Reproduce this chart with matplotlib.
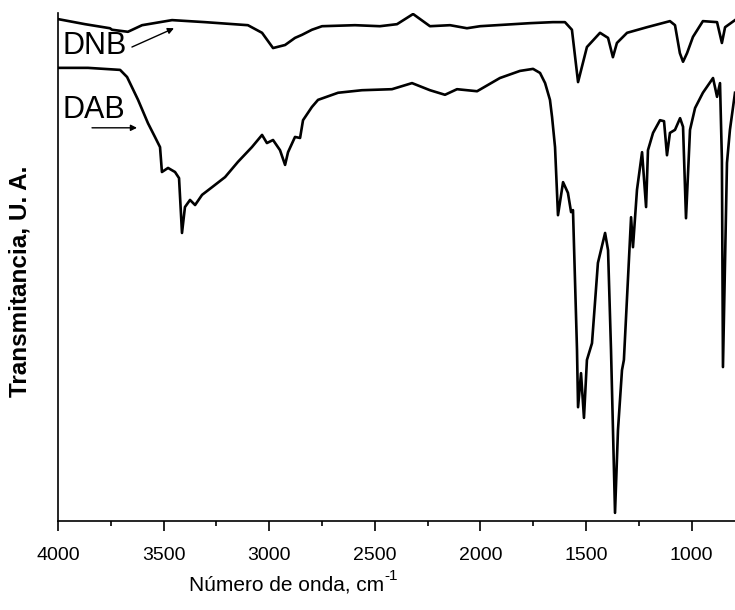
import matplotlib
matplotlib.use("Agg")
import matplotlib.pyplot as plt
import numpy as np

plt.rcParams['font.family'] = ['Liberation Sans', 'DejaVu Sans']

# FTIR spectra: wavenumber (cm-1) and transmittance (arbitrary units)
dnb_wn = np.array([4000, 3872, 3754, 3744, 3669, 3602, 3460, 3304, 3101, 3034,
                   2982, 2925, 2878, 2845, 2798, 2750, 2594, 2476, 2395, 2319,
                   2239, 2144, 2064, 2002, 1765, 1657, 1600, 1567, 1538, 1496,
                   1434, 1396, 1373, 1354, 1306, 1212, 1103, 1079, 1056, 1041,
                   1022, 994, 947, 880, 857, 842, 795])
dnb_t = np.array([98.8, 97.8, 97.0, 96.7, 96.3, 97.6, 98.6, 98.2, 97.6, 96.1,
                  93.1, 93.7, 95.1, 95.7, 96.7, 97.4, 97.6, 97.4, 97.8, 99.8,
                  97.4, 97.6, 97.0, 97.4, 98.0, 98.2, 98.2, 96.7, 86.4, 93.3,
                  96.1, 95.1, 91.3, 94.1, 96.1, 97.2, 98.4, 97.6, 92.1, 90.4,
                  92.1, 95.3, 98.4, 98.2, 94.1, 97.2, 98.6])

dab_wn = np.array([4000, 3858, 3706, 3673, 3621, 3574, 3541, 3517, 3508, 3479,
                   3446, 3427, 3413, 3399, 3375, 3351, 3318, 3271, 3209, 3148,
                   3082, 3034, 3011, 2982, 2949, 2925, 2911, 2878, 2854, 2840,
                   2798, 2769, 2674, 2561, 2419, 2324, 2239, 2168, 2111, 2016,
                   1908, 1813, 1751, 1718, 1694, 1671, 1661, 1647, 1633, 1609,
                   1586, 1571, 1562, 1543, 1538, 1524, 1510, 1496, 1472, 1444,
                   1410, 1396, 1382, 1363, 1349, 1330, 1321, 1287, 1278, 1259,
                   1235, 1216, 1207, 1183, 1150, 1131, 1117, 1103, 1079, 1055,
                   1041, 1027, 1008, 984, 947, 899, 880, 866, 857, 852,
                   833, 819, 795])
dab_t = np.array([89.2, 89.2, 88.8, 87.4, 82.9, 78.3, 75.6, 73.6, 68.7, 69.5,
                  68.7, 67.5, 56.7, 61.8, 63.2, 62.2, 64.2, 65.7, 67.7, 70.7,
                  73.6, 76.0, 74.4, 75.0, 73.0, 70.1, 72.6, 75.6, 75.4, 78.9,
                  81.5, 82.9, 84.3, 84.8, 85.0, 86.2, 84.8, 83.9, 85.0, 84.6,
                  87.2, 88.6, 89.0, 88.2, 86.2, 82.9, 79.5, 73.6, 60.2, 66.7,
                  64.6, 60.8, 61.2, 33.7, 22.4, 29.1, 20.3, 31.7, 35.0, 50.8,
                  56.7, 53.3, 33.7, 1.6, 17.9, 29.7, 31.7, 59.8, 53.9, 65.2,
                  72.6, 61.8, 73.0, 76.4, 78.9, 78.7, 72.0, 76.4, 77.0, 79.3,
                  77.6, 59.6, 77.0, 81.3, 84.3, 87.2, 83.5, 86.2, 71.1, 30.3,
                  70.5, 77.0, 84.3])

major_ticks = [4000, 3500, 3000, 2500, 2000, 1500, 1000]

fig = plt.figure(figsize=(7.35, 6.1), dpi=100)
ax = fig.add_axes([58 / 735, 1 - 521 / 610, 1 - 58 / 735, (521 - 13) / 610])

ax.plot(dnb_wn, dnb_t, color='black', lw=1.9, solid_joinstyle='round')
ax.plot(dab_wn, dab_t, color='black', lw=1.9, solid_joinstyle='round')

ax.set_xlim(4000, 795)
ax.set_ylim(0, 100)

ax.spines['top'].set_visible(False)
ax.spines['right'].set_visible(False)
ax.spines['left'].set_linewidth(1.2)
ax.spines['bottom'].set_linewidth(1.2)

ax.set_xticks(major_ticks)
ax.set_xticks(np.arange(3750, 795, -500), minor=True)
ax.tick_params(axis='x', which='major', direction='out', length=7.5, width=1.2,
               labelsize=14, pad=11.5)
ax.tick_params(axis='x', which='minor', direction='out', length=3.8, width=1.2)
ax.set_yticks([])

# curve labels with arrows
ax.text(3981, 93.5, 'DNB', fontsize=22, ha='left', va='center')
ax.annotate('', xy=(3451, 97.0), xytext=(3650, 93.3),
            arrowprops=dict(arrowstyle='-|>', color='black', lw=1.0,
                            mutation_scale=9, shrinkA=0, shrinkB=0))
ax.text(3981, 80.9, 'DAB', fontsize=22, ha='left', va='center')
ax.annotate('', xy=(3626, 77.4), xytext=(3839, 77.4),
            arrowprops=dict(arrowstyle='-|>', color='black', lw=1.0,
                            mutation_scale=9, shrinkA=0, shrinkB=0))

xlab = ax.set_xlabel('Número de onda, cm', fontsize=15)
ax.xaxis.set_label_coords(0.337, -0.107)
# superscript written with a plain hyphen
ax.annotate('-1', xy=(1, 1), xycoords=xlab, xytext=(0.5, -5.2),
            textcoords='offset points', fontsize=11, ha='left', va='bottom')
ax.set_ylabel('Transmitancia, U. A.', fontsize=17.5, fontweight='bold')
ax.yaxis.set_label_coords(-0.039, 0.472)

fig.savefig('out.png', dpi=100)
